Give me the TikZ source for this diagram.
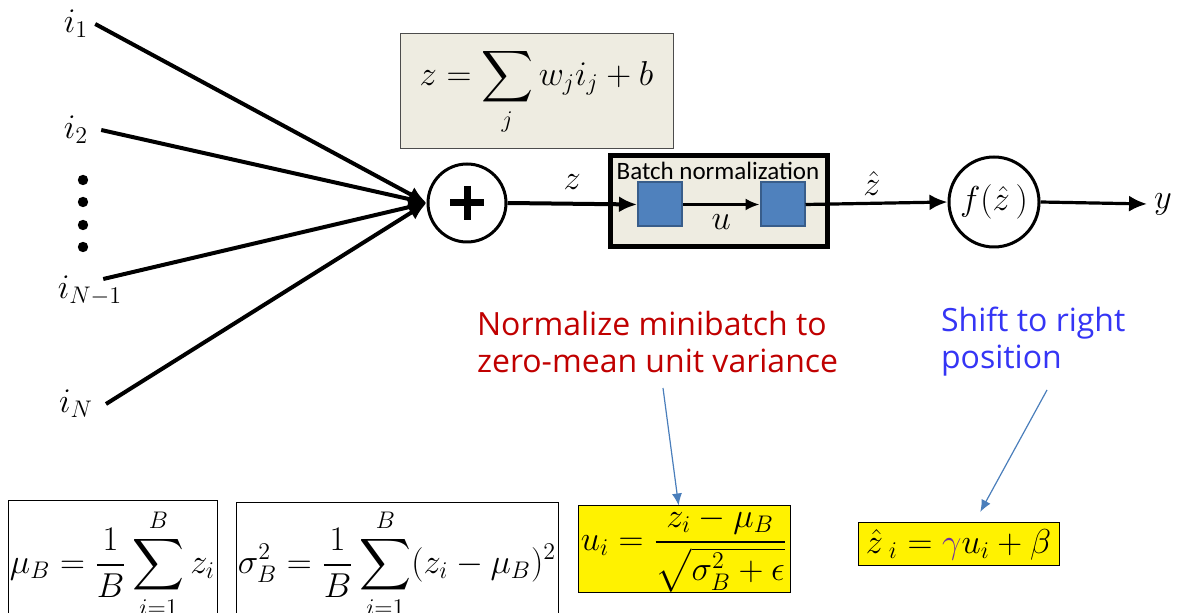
\documentclass[tikz,border=0pt]{standalone}
\usepackage{amsmath,amsfonts,amssymb}
\usepackage{fontspec}
\newfontfamily\boxfont{Carlito}
\newfontfamily\notefont{Open Sans}
\usepackage{tikz}
\usetikzlibrary{arrows.meta,positioning}
\definecolor{paper}{HTML}{EEECE1}
\definecolor{sqfill}{HTML}{4F81BD}
\definecolor{sqline}{HTML}{385D8A}
\definecolor{notered}{HTML}{C00000}
\definecolor{noteblue}{HTML}{3535F5}
\definecolor{pointer}{HTML}{4A7EBB}
\definecolor{gam}{HTML}{7030A0}

\begin{document}
\begin{tikzpicture}[x=0.5pt, y=-0.5pt,
  every node/.style={font=\fontsize{18}{21}\selectfont},
  feed/.style={line width=2pt, -{Latex[length=9pt,width=8pt]}},
  pointto/.style={draw=pointer, line width=0.6pt, -{Latex[length=6pt,width=5pt]}},
  eqbox/.style={draw, line width=0.5pt, inner sep=0pt},
  yelbox/.style={eqbox, fill=yellow},
  bluesq/.style={draw=sqline, line width=1pt, fill=sqfill, inner sep=0pt,
    minimum width=22pt, minimum height=22pt}]
\clip (0,0) rectangle (1177,613);

% inputs
\node (in1) at (76,24) {$i_1$};
\node (in2) at (76,130) {$i_2$};
\node (inm) at (90,291) {$i_{N-1}$};
\node (inn) at (76,404) {$i_N$};
\foreach \yy in {180,202,225,247} \fill (83,\yy) circle (2.6pt);

% summation and activation
\node[eqbox, draw=black!70, fill=paper, minimum width=136.5pt, minimum height=57.5pt] (sumeq) at (536.5,91.5)
  {$\displaystyle z=\sum_j w_j i_j+b$};
\node[circle, draw, line width=1.5pt, minimum size=39pt] (plus) at (467,203) {};
\draw[line width=3.5pt] (plus.center) ++(-17,0) -- ++(34,0);
\draw[line width=3.5pt] (plus.center) ++(0,-17) -- ++(0,34);
\node[circle, draw, line width=1.5pt, minimum size=45pt, inner sep=0pt] (act) at (994,202) {$f(\hat{z}\,)$};
\node (yout) at (1163,204) {$y$};

% batch normalization block
\node[draw, line width=2.5pt, fill=paper, minimum width=108.5pt, minimum height=45.5pt] (bnbox) at (718.5,201.5) {};
\node[font=\boxfont\fontsize{12.5}{14}\selectfont, inner sep=0pt] (bntitle) at (718,171) {Batch normalization};
\node[bluesq] (sqa) at (660,204.5) {};
\node[bluesq] (sqb) at (782.5,204.5) {};

% connectors
\draw[feed] (in1.east) -- (plus.west);
\draw[feed] ([xshift=3pt]in2.east) -- (plus.west);
\draw[feed] ([xshift=-13pt,yshift=-5pt]inm.north east) -- (plus.west);
\draw[feed] ([xshift=3pt]inn.east) -- (plus.west);
\draw[feed] (plus.east) -- node[above=3pt] (zlab) {$z$} (sqa.west);
\draw[line width=1.2pt, -{Latex[length=7pt,width=6pt]}] (sqa.east) -- node[below=1pt] (ulab) {$u$} (sqb.west);
\draw[feed, line width=1.6pt] (sqb.east) -- (act.west);
\node (zhlab) at (872,184) {$\hat{z}$};
\draw[feed, line width=1.6pt] (act.east) -- (yout.west);

% notes
\node[anchor=west, align=left, text=notered, font=\notefont\fontsize{16}{18.5}\selectfont] (normtxt) at (470,342)
  {Normalize minibatch to\\zero-mean unit variance};
\node[anchor=west, align=left, text=noteblue, font=\notefont\fontsize{16}{18.5}\selectfont] (shifttxt) at (934,342)
  {Shift to right\\position};

% formulas
\node[eqbox, minimum width=104.5pt, minimum height=63pt] (mubox) at (112.5,564)
  {$\displaystyle \mu_B=\frac{1}{B}\sum_{i=1}^{B} z_i$};
\node[eqbox, minimum width=161pt, minimum height=61pt] (sigbox) at (397,564)
  {$\displaystyle \sigma_B^2=\frac{1}{B}\sum_{i=1}^{B}(z_i-\mu_B)^2$};
\node[yelbox, minimum width=106pt, minimum height=43.5pt] (ubox) at (684,549.5)
  {$\displaystyle u_i=\frac{z_i-\mu_B}{\sqrt{\sigma_B^2+\epsilon}}$};
\node[yelbox, minimum width=100.5pt, minimum height=21.5pt] (zbox) at (958.5,544.5)
  {$\hat{z}\,{}_i={\color{gam}\gamma}u_i+\beta$};

\coordinate (nfrom) at (663,388);
\coordinate (sfrom) at (1047,390);
\draw[pointto] (nfrom) -- (ubox.97);
\draw[pointto, shorten >=6pt] (sfrom) -- (zbox.54);
\end{tikzpicture}
\end{document}
